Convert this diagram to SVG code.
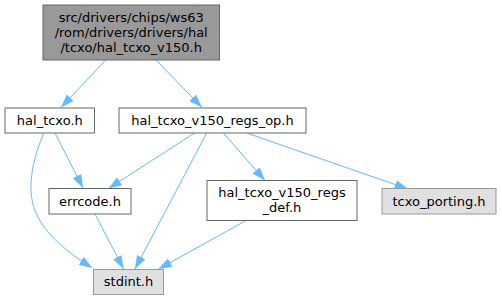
<svg xmlns="http://www.w3.org/2000/svg" width="502" height="300" viewBox="0 0 502 300">
<style>
  text { font-family: "DejaVu Sans", "Liberation Sans", sans-serif; font-size: 13px; fill: #000; text-anchor: middle; }
  .n { fill: #ffffff; stroke: #666666; stroke-width: 1; }
  .top { fill: #999999; stroke: #666666; stroke-width: 1; }
  .ext { fill: #e0e0e0; stroke: #999999; stroke-width: 1; }
  .e { fill: none; stroke: #63b8ff; stroke-width: 1; marker-end: url(#arr); }
</style>
<defs>
  <marker id="arr" markerUnits="userSpaceOnUse" markerWidth="13.3" markerHeight="9.4" viewBox="0 0 13.3 9.4" refX="13.3" refY="4.7" orient="auto">
    <path d="M0,0 L13.3,4.7 L0,9.4 Z" fill="#63b8ff"/>
  </marker>
</defs>
<rect width="502" height="300" fill="#ffffff"/>
<g id="connectors">
  <path class="e" d="M105.7,60 L61,107.5"/>
  <path class="e" d="M156,60 L202,107.5"/>
  <path class="e" d="M55,133 L83,188"/>
  <path class="e" d="M43.5,133.5 C36,152 24,186 36,213 C46,235 67,252 92.5,268"/>
  <path class="e" d="M194.5,133 L108.5,188.5"/>
  <path class="e" d="M206.7,133 L135,269"/>
  <path class="e" d="M223.3,133 L265,180.5"/>
  <path class="e" d="M246.7,133 L408,189"/>
  <path class="e" d="M95,214 L123.5,269"/>
  <path class="e" d="M245,221 L158.5,269"/>
</g>
<g id="node-hal_tcxo_v150">
  <rect class="top" x="43" y="5" width="176.5" height="55"/>
  <text x="131.2" y="21.5">src/drivers/chips/ws63</text>
  <text x="131.2" y="36.5">/rom/drivers/drivers/hal</text>
  <text x="131.2" y="51.5">/tcxo/hal_tcxo_v150.h</text>
</g>
<g id="node-hal_tcxo">
  <rect class="n" x="5" y="108" width="89.5" height="25"/>
  <text x="49.8" y="124.5">hal_tcxo.h</text>
</g>
<g id="node-regs_op">
  <rect class="n" x="119" y="108" width="187" height="25"/>
  <text x="212.5" y="124.5">hal_tcxo_v150_regs_op.h</text>
</g>
<g id="node-errcode">
  <rect class="n" x="49" y="188.5" width="82" height="25.5"/>
  <text x="90" y="205.5">errcode.h</text>
</g>
<g id="node-regs_def">
  <rect class="n" x="207" y="180.5" width="150" height="40"/>
  <text x="282" y="197">hal_tcxo_v150_regs</text>
  <text x="282" y="212">_def.h</text>
</g>
<g id="node-tcxo_porting">
  <rect class="ext" x="382" y="188.5" width="114" height="25.5"/>
  <text x="439" y="205.5">tcxo_porting.h</text>
</g>
<g id="node-stdint">
  <rect class="ext" x="93.5" y="269.5" width="70" height="25"/>
  <text x="128.5" y="286">stdint.h</text>
</g>
</svg>
